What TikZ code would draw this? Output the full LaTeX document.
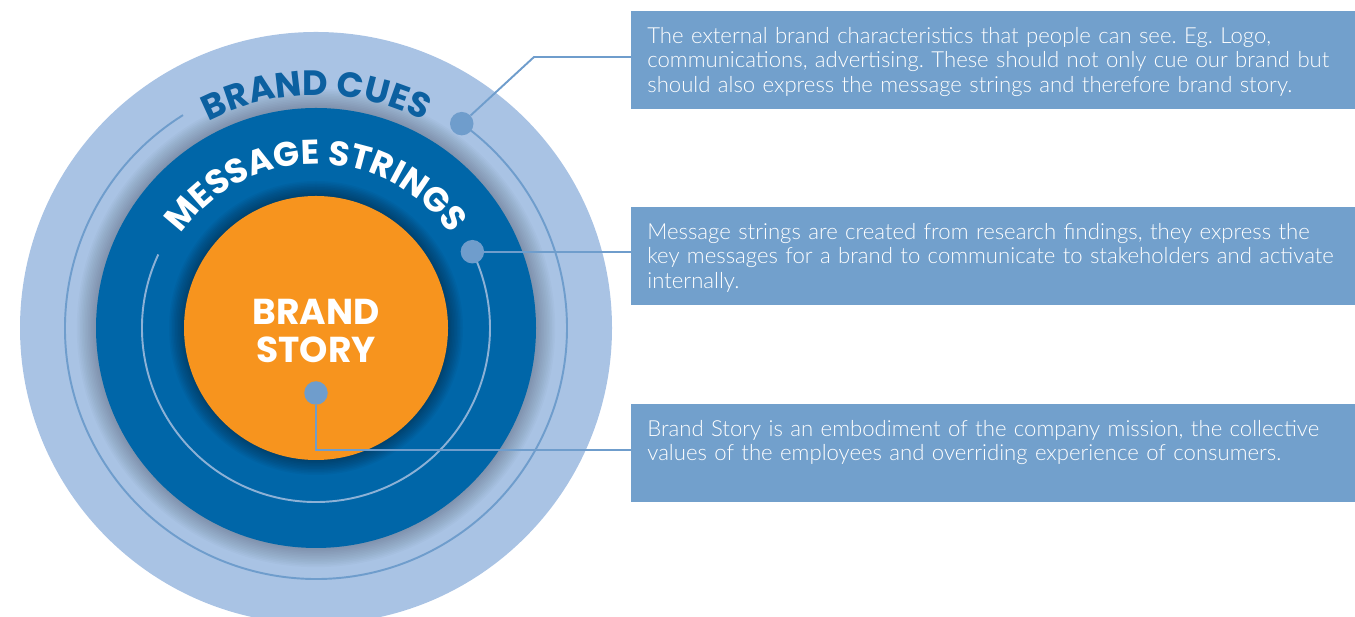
\documentclass[tikz,border=0pt]{standalone}
\usepackage{fontspec}
\usetikzlibrary{decorations.text}
\newfontfamily\fliessschrift{Lato}[UprightFont={* Light}]
\newfontfamily\titelschrift{Poppins}
\frenchspacing
\definecolor{hellblau}{RGB}{169,195,228}
\definecolor{dunkelblau}{RGB}{0,102,168}
\definecolor{markenorange}{RGB}{247,148,30}
\definecolor{kastenblau}{RGB}{114,160,204}
\definecolor{linienblau}{RGB}{111,157,204}
\definecolor{cuesblau}{RGB}{12,96,160}
\tikzset{
	punkt/.style={circle, fill=linienblau, minimum size=0.47cm, inner sep=0pt},
	verbinder/.style={linienblau, line width=1.1pt},
	bogen/.style={linienblau, line width=1.1pt},
	kasten/.style={fill=kastenblau, anchor=north west, minimum width=14.48cm, text width=13.84cm,
		inner xsep=0.32cm, inner ysep=0.24cm, text height=0.4cm, text depth=1.08cm,
		align=left, text=white, font=\fliessschrift\fontsize{12.6}{13.9}\selectfont},
}
\begin{document}
\begin{tikzpicture}
				[
				x=0.02cm, y=0.02cm, >=latex
				%1 Einheit = 1 Pixel der Vorlage
				]
				\useasboundingbox (0,0) rectangle (1355,617);
				\coordinate (mitte) at (316,289);
				%Ringe mit Schatten
				\fill[hellblau] (mitte) circle (296);
				\foreach \i in {1,...,12}
					\fill[black, opacity=0.02] (mitte) circle (220+1.6*\i);
				\fill[dunkelblau] (mitte) circle (220);
				\foreach \i in {1,...,10}
					\fill[black, opacity=0.035] (mitte) circle (132+1.5*\i);
				\fill[markenorange] (mitte) circle (132);
				%duenne Boegen
				\draw[bogen] (mitte) ++(122:251) arc[start angle=122, end angle=414.5, radius=251];
				\draw[bogen, linienblau!80!white] (mitte) ++(155:174) arc[start angle=155, end angle=386, radius=174];
				%Beschriftung der Ringe
				\path[decorate, decoration={text along path, text align=center, text color=cuesblau,
					text={|\titelschrift\bfseries\fontsize{20}{22}\selectfont|BRAND CUES}}]
					(mitte) ++(120:233) arc[start angle=120, end angle=60, radius=233];
				\path[decorate, decoration={text along path, text align=center, text color=white,
					text={|\titelschrift\bfseries\fontsize{19.5}{22}\selectfont|MESSAGE STRINGS}}]
					(mitte) ++(150:164) arc[start angle=150, end angle=30, radius=164];
				\node[font=\titelschrift\bfseries\fontsize{20.5}{21.6}\selectfont, text=white, align=center] (story) at (316,286) {BRAND\\STORY};
				%Kaesten
				\node[kasten] (kastencues) at (631,606) {The external brand characteristics that people can see. Eg. Logo,\\communications, advertising. These should not only cue our brand but\\should also express the message strings and therefore brand story.};
				\node[kasten] (kastenstrings) at (631,410) {Message strings are created from research findings, they express the\\key messages for a brand to communicate to stakeholders and activate\\internally.};
				\node[kasten] (kastenstory) at (631,213) {Brand Story is an embodiment of the company mission, the collective\\values of the employees and overriding experience of consumers.};
				%Punkte und Verbinder
				\node[punkt] (punktcues) at ([shift={(54.5:251)}]mitte) {};
				\node[punkt] (punktstrings) at ([shift={(26:174)}]mitte) {};
				\node[punkt] (punktstory) at (316,224) {};
				\coordinate (knick) at (534,560);
				\coordinate (eck) at (316,167);
				\draw[verbinder] (punktcues) -- (knick) -- (knick -| kastencues.west);
				\draw[verbinder] (punktstrings) -- (punktstrings -| kastenstrings.west);
				\draw[verbinder] (punktstory) -- (eck) -- (eck -| kastenstory.west);
\end{tikzpicture}
\end{document}
